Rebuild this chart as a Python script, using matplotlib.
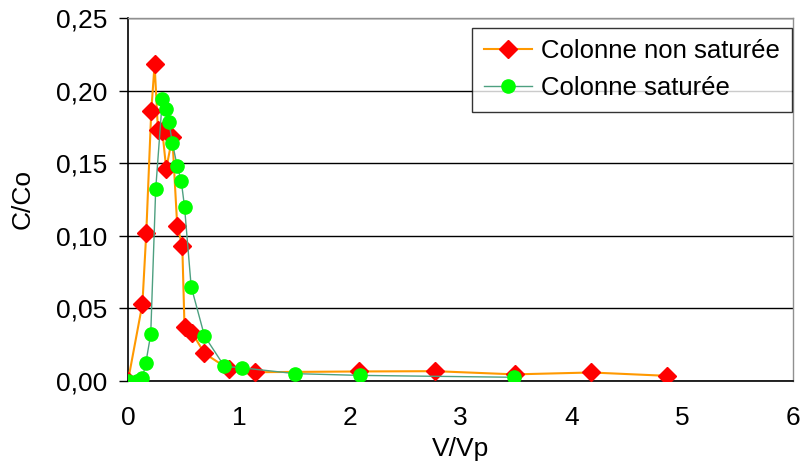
import matplotlib
matplotlib.use("Agg")
import matplotlib.pyplot as plt
from matplotlib.ticker import FuncFormatter

plt.rcParams['font.family'] = ['Liberation Sans', 'DejaVu Sans']

# Colonne non saturée
x_ns = [0.0, 0.13, 0.165, 0.21, 0.24, 0.27, 0.31, 0.345, 0.40, 0.444, 0.49, 0.51,
        0.58, 0.69, 0.91, 1.15, 2.08, 2.77, 3.49, 4.18, 4.86]
y_ns = [0.0, 0.053, 0.102, 0.186, 0.218, 0.173, 0.172, 0.146, 0.168, 0.107, 0.093, 0.037,
        0.033, 0.019, 0.008, 0.006, 0.0065, 0.0067, 0.0045, 0.0058, 0.0035]

# Colonne saturée
x_s = [0.0, 0.08, 0.13, 0.16, 0.205, 0.25, 0.31, 0.345, 0.37, 0.40, 0.444, 0.48,
       0.51, 0.57, 0.69, 0.87, 1.03, 1.51, 2.09, 3.48]
y_s = [0.0, 0.0, 0.002, 0.012, 0.032, 0.132, 0.194, 0.187, 0.178, 0.164, 0.148, 0.138,
       0.120, 0.065, 0.031, 0.010, 0.009, 0.005, 0.0038, 0.0025]

x_ticks = [0, 1, 2, 3, 4, 5, 6]
y_ticks = [0.0, 0.05, 0.10, 0.15, 0.20, 0.25]

fig = plt.figure(figsize=(8.05, 4.72), dpi=100)
ax = fig.add_axes([0.159, 0.193, 0.826, 0.769])

ax.plot(x_ns, y_ns, color='#FF9900', lw=1.5, marker='D', ms=9, mfc='#FF0000', mec='#FF0000',
        label='Colonne non saturée', zorder=3)
ax.plot(x_s, y_s, color='#4DA080', lw=1.0, marker='o', ms=9.5, mfc='#00FF00', mec='#00FF00',
        label='Colonne saturée', zorder=4)

ax.set_xlim(0, 6)
ax.set_ylim(0, 0.25)
ax.set_xticks(x_ticks)
ax.set_yticks(y_ticks)
ax.yaxis.set_major_formatter(FuncFormatter(lambda v, p: f"{v:.2f}".replace('.', ',')))
ax.xaxis.set_major_formatter(FuncFormatter(lambda v, p: f"{int(round(v))}"))
ax.tick_params(axis='y', labelsize=19, direction='out', length=6.5, width=1, pad=8.5)
ax.tick_params(axis='x', labelsize=19, length=0, pad=18)
ax.grid(axis='y', color='black', lw=1)
ax.set_axisbelow(True)

for s in ['left', 'bottom']:
    ax.spines[s].set_color('black')
    ax.spines[s].set_linewidth(1.2)
for s in ['top', 'right']:
    ax.spines[s].set_color('#909090')
    ax.spines[s].set_linewidth(1)

ax.set_xlabel('V/Vp', fontsize=19, labelpad=5)
ax.set_ylabel('C/Co', fontsize=19, labelpad=15)

leg = ax.legend(loc='upper right', fontsize=18.5, frameon=True, fancybox=False,
                edgecolor='black', handlelength=1.9, handletextpad=0.35, borderpad=0.45,
                labelspacing=0.5, bbox_to_anchor=(0.9985, 0.973), borderaxespad=0)
leg.get_frame().set_linewidth(1)

fig.savefig('out.png', dpi=100)
